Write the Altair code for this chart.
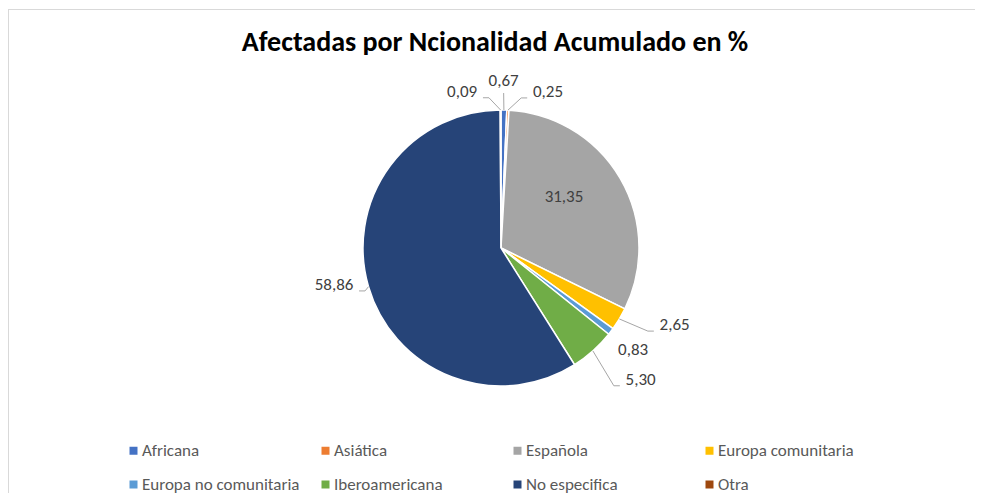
import math
import altair as alt
import pandas as pd

# ---------------- data ----------------
categorias = ["Africana", "Asiática", "Española", "Europa comunitaria",
              "Europa no comunitaria", "Iberoamericana", "No especifica", "Otra"]
valores = [0.67, 0.25, 31.35, 2.65, 0.83, 5.30, 58.86, 0.09]
colores = ["#4472C4", "#ED7D31", "#A5A5A5", "#FFC000",
           "#5B9BD5", "#70AD47", "#264478", "#9E480E"]
titulo = "Afectadas por Ncionalidad Acumulado en %"

# label placement (angle nudge in degrees from slice middle, radius in px)
ajuste = {
    "Africana": (-0.3, 167),
    "Asiática": (13.9, 163),
    "Española": (-8.7, 81),
    "Europa comunitaria": (-7.0, 190),
    "Europa no comunitaria": (0.5, 167),
    "Iberoamericana": (-4.9, 192),
    "No especifica": (3.8, 171),
    "Otra": (-13.8, 161),
}
con_guia = ["Otra", "Africana", "Asiática", "Europa comunitaria",
            "Iberoamericana", "No especifica"]

FONT = "Carlito, Calibri, Lato, sans-serif"
W, H, PAD_TOP = 967, 425, 60
CX, CY, R = 493, 180, 138

df = pd.DataFrame({"categoria": categorias, "valor": valores,
                   "orden": list(range(len(categorias)))})
total = df["valor"].sum()
df["fin"] = df["valor"].cumsum()
df["medio"] = (df["fin"] - df["valor"] / 2) / total * 360
df["etiqueta"] = df["valor"].map(lambda v: f"{v:.2f}".replace(".", ","))
df["ang_etq"] = [math.radians(m + ajuste[c][0]) for c, m in zip(df["categoria"], df["medio"])]
df["r_etq"] = [ajuste[c][1] for c in df["categoria"]]

# leader lines derived from slice angles and label placement
filas = []
for _, row in df.iterrows():
    if row["categoria"] not in con_guia:
        continue
    m = math.radians(row["medio"])
    a = row["ang_etq"]
    r = row["r_etq"]
    x0, y0 = CX + R * math.sin(m), CY - R * math.cos(m)
    lx, ly = CX + r * math.sin(a), CY - r * math.cos(a)
    if abs(math.sin(a)) < 0.1:
        ex, ey = lx, ly + 12
        bx, by = ex, ey
    else:
        side = 1 if math.sin(a) > 0 else -1
        hw = 4.2 * len(row["etiqueta"])
        ex, ey = lx - side * (hw + 4), ly + 6
        bx, by = ex - side * 6, ey
    for paso, (px, py) in enumerate([(x0, y0), (bx, by), (ex, ey)]):
        filas.append({"categoria": row["categoria"], "paso": paso, "x": px, "y": py})
guias = pd.DataFrame(filas)

base = alt.Chart(df)

pie = base.mark_arc(outerRadius=R, stroke="white", strokeWidth=1.5).encode(
    theta=alt.Theta("valor:Q", stack=True),
    order=alt.Order("orden:Q"),
    color=alt.Color(
        "categoria:N",
        scale=alt.Scale(domain=categorias, range=colores),
        legend=alt.Legend(
            title=None, orient="none", legendX=117, legendY=374,
            columns=4, direction="horizontal", gridAlign="all",
            symbolType="square", symbolSize=64, symbolStrokeWidth=0,
            labelFont=FONT, labelFontSize=17, labelColor="#595959",
            labelOffset=0, columnPadding=17, rowPadding=16, padding=0,
            labelLimit=300,
        ),
    ),
    x=alt.value(CX),
    y=alt.value(CY),
)

lineas = alt.Chart(guias).mark_line(color="#A6A6A6", strokeWidth=1).encode(
    x=alt.X("x:Q", scale=None, axis=None),
    y=alt.Y("y:Q", scale=None, axis=None),
    detail="categoria:N",
    order="paso:O",
)

etiquetas = base.mark_text(font=FONT, fontSize=17, color="#404040",
                           align="center", baseline="middle").encode(
    theta=alt.Theta("ang_etq:Q", scale=None, stack=False),
    radius=alt.Radius("r_etq:Q", scale=None),
    text="etiqueta:N",
    x=alt.value(CX),
    y=alt.value(CY),
)

marco = alt.Chart(pd.DataFrame({"a": [0]}))
borde_sup = marco.mark_rule(color="#D9D9D9", strokeWidth=1).encode(
    x=alt.value(0), x2=alt.value(W), y=alt.value(-58.5))
borde_izq = marco.mark_rule(color="#D9D9D9", strokeWidth=1).encode(
    x=alt.value(0.5), y=alt.value(-59), y2=alt.value(H))

cabecera = alt.Chart(pd.DataFrame({"t": [titulo]})).mark_text(
    font=FONT, fontSize=28, fontWeight="bold", color="#000000",
    align="center", baseline="alphabetic",
).encode(text="t:N", x=alt.value(487), y=alt.value(-17))

chart = alt.layer(borde_sup, borde_izq, pie, lineas, etiquetas, cabecera).properties(
    width=W, height=H,
    autosize="none",
    padding={"left": 0, "right": 0, "top": PAD_TOP, "bottom": 0},
).configure_view(strokeWidth=0)

chart.save("out.html", embed_options={"renderer": "svg", "actions": False})
